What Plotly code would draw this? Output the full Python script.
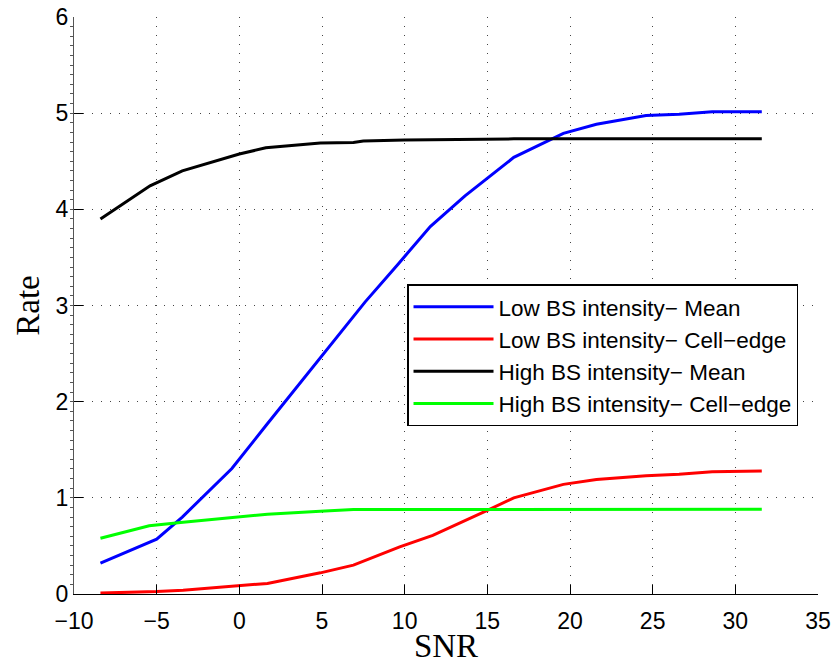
import plotly.graph_objects as go

# Data
low_mean_x = [-8.4, -5.0, -3.45, -0.45, 1.6, 4.8, 7.6, 9.6, 11.55, 13.65, 16.6, 19.6, 21.6, 24.6, 26.6, 28.6, 31.6]
low_mean_y = [0.32, 0.57, 0.80, 1.305, 1.75, 2.43, 3.035, 3.43, 3.82, 4.14, 4.54, 4.79, 4.885, 4.975, 4.99, 5.015, 5.015]

low_edge_x = [-8.4, -5.0, -3.4, 0.0, 1.7, 4.9, 6.9, 9.7, 11.7, 15.0, 16.6, 19.6, 21.6, 24.6, 26.6, 28.6, 31.6]
low_edge_y = [0.01, 0.025, 0.04, 0.083, 0.11, 0.22, 0.30, 0.49, 0.61, 0.87, 1.0, 1.14, 1.19, 1.23, 1.245, 1.27, 1.28]

high_mean_x = [-8.4, -5.4, -3.45, -1.2, 0.0, 1.6, 4.9, 6.9, 7.5, 10.0, 13.6, 16.6, 31.6]
high_mean_y = [3.90, 4.245, 4.40, 4.51, 4.575, 4.64, 4.69, 4.695, 4.71, 4.72, 4.73, 4.733, 4.733]

high_edge_x = [-8.4, -5.45, -3.4, 0.0, 1.7, 4.9, 6.9, 31.6]
high_edge_y = [0.58, 0.71, 0.745, 0.805, 0.83, 0.86, 0.878, 0.88]

names = ["Low BS intensity\u2212 Mean", "Low BS intensity\u2212 Cell\u2212edge",
         "High BS intensity\u2212 Mean", "High BS intensity\u2212 Cell\u2212edge"]
colors = ["#0000FF", "#FF0000", "#000000", "#00FF00"]

x_ticks = [-10, -5, 0, 5, 10, 15, 20, 25, 30, 35]
y_ticks = [0, 1, 2, 3, 4, 5, 6]

fig = go.Figure()
for xs, ys, nm, c in zip([low_mean_x, low_edge_x, high_mean_x, high_edge_x],
                         [low_mean_y, low_edge_y, high_mean_y, high_edge_y],
                         names, colors):
    fig.add_trace(go.Scatter(x=xs, y=ys, mode="lines", name=nm,
                             line=dict(color=c, width=3)))

axis_font = dict(family="Liberation Sans, Arial, sans-serif", size=23, color="black")
title_font = dict(family="Liberation Serif, Times New Roman, serif", size=33, color="black")

fig.update_layout(
    width=833, height=664,
    margin=dict(l=74, r=15, t=17, b=70),
    paper_bgcolor="white", plot_bgcolor="white",
    showlegend=True,
    legend=dict(x=0.4476, y=0.537, xanchor="left", yanchor="top",
                bgcolor="white", bordercolor="black", borderwidth=1.5,
                font=dict(family="Liberation Sans, Arial, sans-serif", size=22.5, color="black"),
                itemwidth=80, tracegroupgap=0),
    xaxis=dict(range=[-10, 35], tickvals=x_ticks, ticks="inside", ticklen=9,
               tickcolor="black", showline=True, linecolor="black", linewidth=1,
               showgrid=True, gridcolor="#444", gridwidth=1, griddash="1px,8px",
               zeroline=False, tickfont=axis_font, automargin=False,
               ticklabelstandoff=6,
               title=dict(text="SNR", font=title_font, standoff=4)),
    yaxis=dict(range=[0, 6], tickvals=y_ticks, ticks="inside", ticklen=9,
               tickcolor="black", showline=True, linecolor="#555", linewidth=1,
               showgrid=True, gridcolor="#444", gridwidth=1, griddash="1px,8px",
               zeroline=False, tickfont=axis_font, automargin=False,
               minor=dict(dtick=0.1, ticks="outside", ticklen=3, tickcolor="#555", showgrid=False),
               title=dict(text="Rate", font=title_font, standoff=6)),
)

fig.write_html("out.html")
